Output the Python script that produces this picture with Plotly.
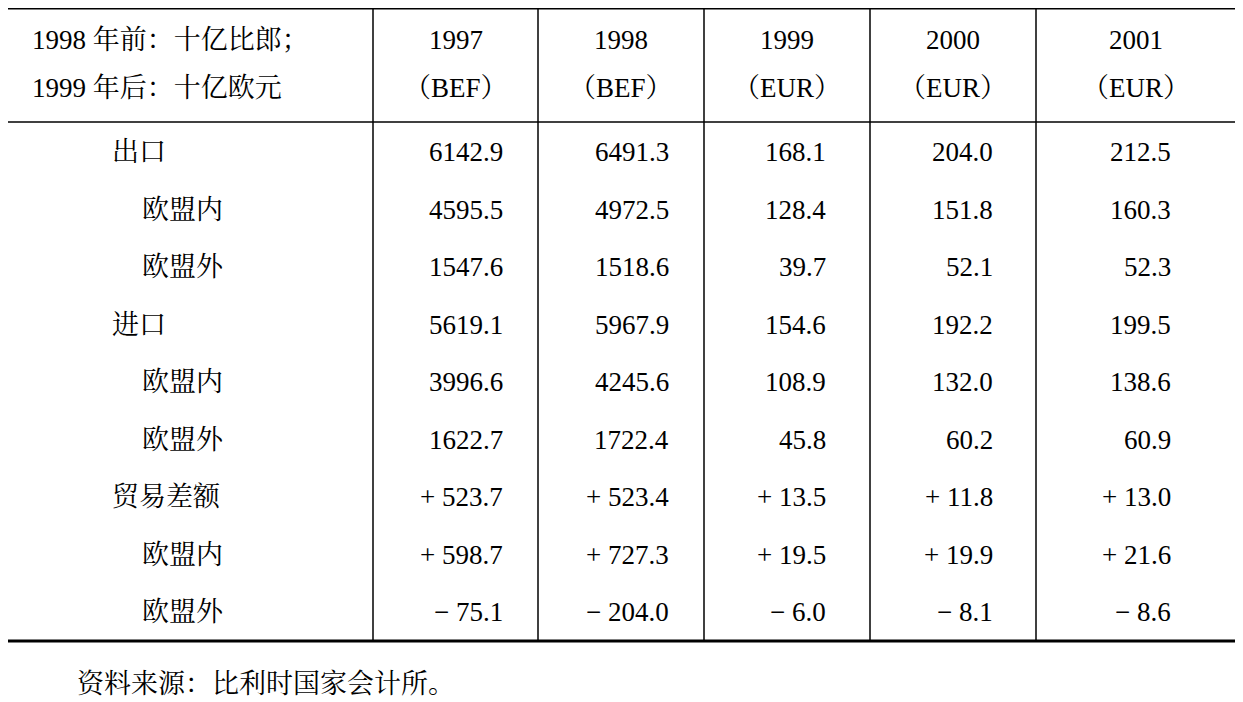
import plotly.graph_objects as go

header_left = ["1998 年前：十亿比郎；", "1999 年后：十亿欧元"]
years = ["1997", "1998", "1999", "2000", "2001"]
currencies = ["（BEF）", "（BEF）", "（EUR）", "（EUR）", "（EUR）"]
row_labels = ["出口", "欧盟内", "欧盟外", "进口", "欧盟内", "欧盟外", "贸易差额", "欧盟内", "欧盟外"]
row_indent = [0, 1, 1, 0, 1, 1, 0, 1, 1]
values = [
    ["6142.9", "6491.3", "168.1", "204.0", "212.5"],
    ["4595.5", "4972.5", "128.4", "151.8", "160.3"],
    ["1547.6", "1518.6", "39.7", "52.1", "52.3"],
    ["5619.1", "5967.9", "154.6", "192.2", "199.5"],
    ["3996.6", "4245.6", "108.9", "132.0", "138.6"],
    ["1622.7", "1722.4", "45.8", "60.2", "60.9"],
    ["+ 523.7", "+ 523.4", "+ 13.5", "+ 11.8", "+ 13.0"],
    ["+ 598.7", "+ 727.3", "+ 19.5", "+ 19.9", "+ 21.6"],
    ["− 75.1", "− 204.0", "− 6.0", "− 8.1", "− 8.6"],
]
footnote = "资料来源：比利时国家会计所。"

W, H = 1243, 702
OFF = -8  # compensate page offset
col_edges = [373, 538, 704, 870, 1036, 1235]
num_right = [505, 671, 828, 995, 1173]
FONT = "Liberation Serif, Noto Serif CJK SC, Noto Sans CJK SC, serif"
fs = 27

fig = go.Figure()
ann = []
def t(x, y, s, anchor="center"):
    ann.append(dict(x=x + OFF, y=y + OFF, text=s, showarrow=False, xanchor=anchor, yanchor="middle",
                    xref="x", yref="y", font=dict(family=FONT, size=fs, color="black")))

t(30, 40, header_left[0], "left")
t(30, 88, header_left[1], "left")
for i in range(5):
    cx = (col_edges[i] + col_edges[i + 1]) / 2
    t(cx, 40, years[i])
    t(cx, 88, currencies[i])
row_y0, row_dy = 152, 57.5
for r, lab in enumerate(row_labels):
    y = row_y0 + r * row_dy
    t(110 + 30 * row_indent[r], y, lab, "left")
    for c, v in enumerate(values[r]):
        t(num_right[c], y, v, "right")
t(75, 684, footnote, "left")

def hl(y, w):
    return dict(type="line", x0=8 + OFF, x1=1235 + OFF, y0=y + OFF, y1=y + OFF, line=dict(color="black", width=w))
shapes = [hl(8, 3), hl(122, 1.5), hl(641, 3)]
for x in col_edges[:-1]:
    shapes.append(dict(type="line", x0=x + OFF, x1=x + OFF, y0=8 + OFF, y1=641 + OFF,
                       line=dict(color="black", width=1.5)))

fig.update_layout(
    width=W, height=H, margin=dict(l=0, r=0, t=0, b=0),
    paper_bgcolor="white", plot_bgcolor="white",
    xaxis=dict(range=[0, W], visible=False, fixedrange=True),
    yaxis=dict(range=[H, 0], visible=False, fixedrange=True),
    annotations=ann, shapes=shapes, showlegend=False,
)
fig.write_html("out.html")
